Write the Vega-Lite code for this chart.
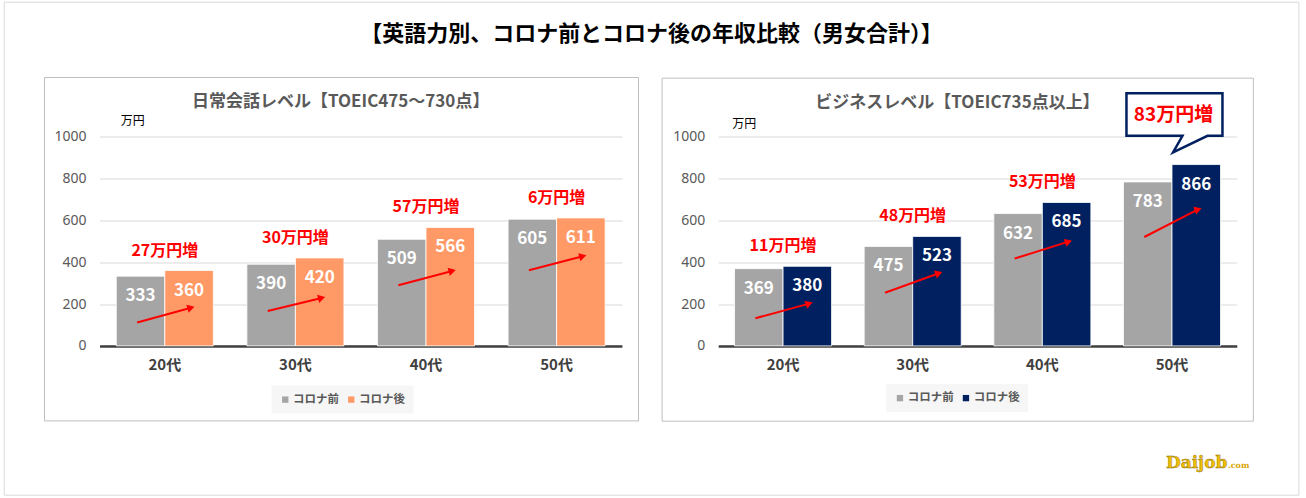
{
  "$schema": "https://vega.github.io/schema/vega-lite/v6.json",
  "background": "white",
  "padding": {"left": 3.5, "top": 1.5, "right": 0, "bottom": 0},
  "bounds": "flush",
  "spacing": 95.7,
  "resolve": {"scale": {"color": "independent"}, "legend": {"color": "independent"}},
  "title": {"text": "【英語力別、コロナ前とコロナ後の年収比較（男女合計）】", "anchor": "middle", "frame": "bounds", "offset": -44, "fontSize": 22, "fontWeight": "bold", "color": "#000000", "font": "Noto Sans CJK JP"},
  "datasets": {
    "daily": [
      {"age": "20代", "period": "コロナ前", "value": 333},
      {"age": "20代", "period": "コロナ後", "value": 360},
      {"age": "30代", "period": "コロナ前", "value": 390},
      {"age": "30代", "period": "コロナ後", "value": 420},
      {"age": "40代", "period": "コロナ前", "value": 509},
      {"age": "40代", "period": "コロナ後", "value": 566},
      {"age": "50代", "period": "コロナ前", "value": 605},
      {"age": "50代", "period": "コロナ後", "value": 611}
    ],
    "daily_ann": [
      {"age": "20代", "after": 360, "inc": "27万円増", "arrowFrom": 112, "arrowTo": 182},
      {"age": "30代", "after": 420, "inc": "30万円増", "arrowFrom": 167, "arrowTo": 229},
      {"age": "40代", "after": 566, "inc": "57万円増", "arrowFrom": 290, "arrowTo": 358},
      {"age": "50代", "after": 611, "inc": "6万円増", "arrowFrom": 361, "arrowTo": 428}
    ],
    "business": [
      {"age": "20代", "period": "コロナ前", "value": 369},
      {"age": "20代", "period": "コロナ後", "value": 380},
      {"age": "30代", "period": "コロナ前", "value": 475},
      {"age": "30代", "period": "コロナ後", "value": 523},
      {"age": "40代", "period": "コロナ前", "value": 632},
      {"age": "40代", "period": "コロナ後", "value": 685},
      {"age": "50代", "period": "コロナ前", "value": 783},
      {"age": "50代", "period": "コロナ後", "value": 866}
    ],
    "business_ann": [
      {"age": "20代", "after": 380, "inc": "11万円増", "arrowFrom": 132, "arrowTo": 202},
      {"age": "30代", "after": 523, "inc": "48万円増", "arrowFrom": 254, "arrowTo": 347},
      {"age": "40代", "after": 685, "inc": "53万円増", "arrowFrom": 417, "arrowTo": 498},
      {"age": "50代", "after": 866, "inc": "83万円増", "arrowFrom": 520, "arrowTo": 652}
    ]
  },
  "hconcat": [
    {
      "width": 522.4,
      "height": 209.4,
      "title": {"text": "日常会話レベル【TOEIC475～730点】", "frame": "group", "anchor": "middle", "dx": -20, "offset": -109.8, "fontSize": 17, "fontWeight": "bold", "color": "#595959", "font": "Noto Sans CJK JP"},
      "resolve": {"scale": {"x": "independent", "y": "independent"}},
      "layer": [
        {
          "data": {"values": [{}]},
          "mark": {"type": "rect", "fill": "transparent", "stroke": "#D9D9D9", "strokeWidth": 1},
          "encoding": {
            "x": {"datum": -0.1824, "type": "quantitative", "scale": {"domain": [0, 1], "nice": false, "zero": false}, "axis": null},
            "x2": {"datum": 2.296},
            "y": {"datum": 1641.4, "type": "quantitative", "scale": {"domain": [0, 1000], "nice": false, "zero": false}, "axis": null},
            "y2": {"datum": -713}
          }
        },
        {
          "data": {"values": [{}]},
          "mark": {"type": "rect", "fill": "transparent", "stroke": "#BFBFBF", "strokeWidth": 1},
          "encoding": {
            "x": {"datum": -0.1053, "type": "quantitative", "scale": {"domain": [0, 1], "nice": false, "zero": false}, "axis": null},
            "x2": {"datum": 1.0318},
            "y": {"datum": 1281.8, "type": "quantitative", "scale": {"domain": [0, 1000], "nice": false, "zero": false}, "axis": null},
            "y2": {"datum": -358.2}
          }
        },
        {
          "layer": [
            {
              "data": {"name": "daily"},
              "mark": {"type": "bar", "stroke": "white", "strokeWidth": 0.8},
              "encoding": {
                "x": {"field": "age", "type": "nominal", "sort": null, "scale": {"domain": ["20代", "30代", "40代", "50代"], "paddingInner": 0.257, "paddingOuter": 0.1285},
                  "axis": {"orient": "bottom", "title": null, "labelAngle": 0, "domainColor": "#404040", "domainWidth": 2.5, "ticks": false, "grid": false, "labelFont": "Noto Sans CJK JP", "labelFontWeight": "bold", "labelFontSize": 15, "labelColor": "#404040", "labelPadding": 12}},
                "xOffset": {"field": "period", "type": "nominal", "sort": null, "scale": {"domain": ["コロナ前", "コロナ後"], "paddingInner": 0, "paddingOuter": 0}},
                "y": {"field": "value", "type": "quantitative", "scale": {"domain": [0, 1000], "nice": false},
                  "axis": {"orient": "left", "values": [0, 200, 400, 600, 800, 1000], "format": "d", "grid": true, "gridColor": "#D9D9D9", "gridWidth": 1, "domain": false, "ticks": false, "labelFont": "Noto Sans", "labelFontSize": 14, "labelColor": "#595959", "labelPadding": 13.5, "title": "万円", "titleAngle": 0, "titleX": 32.7, "titleY": -15.6, "titleAlign": "center", "titleBaseline": "middle", "titleFont": "Noto Sans CJK JP", "titleFontSize": 12, "titleFontWeight": "normal", "titleColor": "#000000"}},
                "color": {"field": "period", "type": "nominal", "sort": null, "scale": {"domain": ["コロナ前", "コロナ後"], "range": ["#A5A5A5", "#FF9966"]},
                  "legend": {"title": null, "orient": "none", "legendX": 172, "legendY": 249, "direction": "horizontal", "symbolType": "square", "symbolSize": 40, "symbolStrokeWidth": 0, "labelFont": "Noto Sans CJK JP", "labelFontSize": 11.5, "labelFontWeight": "bold", "labelColor": "#595959", "labelOffset": 2, "columnPadding": 6, "fillColor": "#F6F6F6", "padding": 8}}
              }
            },
            {
              "data": {"name": "daily"},
              "mark": {"type": "text", "color": "white", "fontWeight": "bold", "fontSize": 17, "font": "Noto Sans CJK JP", "baseline": "middle", "dy": 20},
              "encoding": {
                "x": {"field": "age", "type": "nominal", "sort": null, "scale": {"domain": ["20代", "30代", "40代", "50代"], "paddingInner": 0.257, "paddingOuter": 0.1285}},
                "xOffset": {"field": "period", "type": "nominal", "sort": null, "scale": {"domain": ["コロナ前", "コロナ後"], "paddingInner": 0, "paddingOuter": 0}},
                "y": {"field": "value", "type": "quantitative", "scale": {"domain": [0, 1000], "nice": false}},
                "text": {"field": "value", "type": "quantitative", "format": "d"}
              }
            },
            {
              "data": {"name": "daily_ann"},
              "mark": {"type": "text", "color": "#FF0000", "fontWeight": "bold", "fontSize": 16, "font": "Noto Sans CJK JP", "baseline": "middle", "dy": -20},
              "encoding": {
                "x": {"field": "age", "type": "nominal", "sort": null, "scale": {"domain": ["20代", "30代", "40代", "50代"], "paddingInner": 0.257, "paddingOuter": 0.1285}},
                "y": {"field": "after", "type": "quantitative", "scale": {"domain": [0, 1000], "nice": false}},
                "text": {"field": "inc", "type": "nominal"}
              }
            },
            {
              "data": {"name": "daily_ann"},
              "mark": {"type": "rule", "color": "#FF0000", "strokeWidth": 2},
              "encoding": {
                "x": {"field": "age", "type": "nominal", "sort": null, "bandPosition": 0.215, "scale": {"domain": ["20代", "30代", "40代", "50代"], "paddingInner": 0.257, "paddingOuter": 0.1285}},
                "x2": {"field": "age", "bandPosition": 0.77},
                "y": {"field": "arrowFrom", "type": "quantitative", "scale": {"domain": [0, 1000], "nice": false}},
                "y2": {"field": "arrowTo"}
              }
            },
            {
              "data": {"name": "daily_ann"},
              "mark": {"type": "point", "shape": "triangle-right", "filled": true, "color": "#FF0000", "size": 70, "angle": -15, "opacity": 1},
              "encoding": {
                "x": {"field": "age", "type": "nominal", "sort": null, "bandPosition": 0.77, "scale": {"domain": ["20代", "30代", "40代", "50代"], "paddingInner": 0.257, "paddingOuter": 0.1285}},
                "y": {"field": "arrowTo", "type": "quantitative", "scale": {"domain": [0, 1000], "nice": false}}
              }
            }
          ]
        }
      ]
    },
    {
      "width": 518.6,
      "height": 209.4,
      "title": {"text": "ビジネスレベル【TOEIC735点以上】", "frame": "group", "anchor": "middle", "dx": -20, "offset": -33.8, "fontSize": 17, "fontWeight": "bold", "color": "#595959", "font": "Noto Sans CJK JP"},
      "resolve": {"scale": {"x": "independent", "y": "independent"}},
      "layer": [
        {
          "data": {"values": [{}]},
          "mark": {"type": "rect", "fill": "transparent", "stroke": "#BFBFBF", "strokeWidth": 1},
          "encoding": {
            "x": {"datum": -0.1082, "type": "quantitative", "scale": {"domain": [0, 1], "nice": false, "zero": false}, "axis": null},
            "x2": {"datum": 1.032},
            "y": {"datum": 1278.4, "type": "quantitative", "scale": {"domain": [0, 1000], "nice": false, "zero": false}, "axis": null},
            "y2": {"datum": -359.6}
          }
        },
        {
          "data": {"values": [{}]},
          "mark": {"type": "text", "text": "Daijob", "align": "right", "baseline": "alphabetic", "font": "DejaVu Serif", "fontWeight": "bold", "fontSize": 17, "fill": "#F0BE00", "stroke": "#8B6A10", "strokeWidth": 0.4},
          "encoding": {
            "x": {"datum": 0.982, "type": "quantitative", "scale": {"domain": [0, 1], "nice": false, "zero": false}, "axis": null},
            "y": {"datum": -584, "type": "quantitative", "scale": {"domain": [0, 1000], "nice": false, "zero": false}, "axis": null}
          }
        },
        {
          "data": {"values": [{}]},
          "mark": {"type": "text", "text": ".com", "align": "left", "baseline": "alphabetic", "font": "DejaVu Serif", "fontWeight": "bold", "fontSize": 8, "fill": "#D9A400"},
          "encoding": {
            "x": {"datum": 0.983, "type": "quantitative", "scale": {"domain": [0, 1], "nice": false, "zero": false}, "axis": null},
            "y": {"datum": -584, "type": "quantitative", "scale": {"domain": [0, 1000], "nice": false, "zero": false}, "axis": null}
          }
        },
        {
          "layer": [
            {
              "data": {"name": "business"},
              "mark": {"type": "bar", "stroke": "white", "strokeWidth": 0.8},
              "encoding": {
                "x": {"field": "age", "type": "nominal", "sort": null, "scale": {"domain": ["20代", "30代", "40代", "50代"], "paddingInner": 0.252, "paddingOuter": 0.126},
                  "axis": {"orient": "bottom", "title": null, "labelAngle": 0, "domainColor": "#404040", "domainWidth": 2.5, "ticks": false, "grid": false, "labelFont": "Noto Sans CJK JP", "labelFontWeight": "bold", "labelFontSize": 15, "labelColor": "#404040", "labelPadding": 12}},
                "xOffset": {"field": "period", "type": "nominal", "sort": null, "scale": {"domain": ["コロナ前", "コロナ後"], "paddingInner": 0, "paddingOuter": 0}},
                "y": {"field": "value", "type": "quantitative", "scale": {"domain": [0, 1000], "nice": false},
                  "axis": {"orient": "left", "values": [0, 200, 400, 600, 800, 1000], "format": "d", "grid": true, "gridColor": "#D9D9D9", "gridWidth": 1, "domain": false, "ticks": false, "labelFont": "Noto Sans", "labelFontSize": 14, "labelColor": "#595959", "labelPadding": 13.5, "title": "万円", "titleAngle": 0, "titleX": 25.6, "titleY": -12.6, "titleAlign": "center", "titleBaseline": "middle", "titleFont": "Noto Sans CJK JP", "titleFontSize": 12, "titleFontWeight": "normal", "titleColor": "#000000"}},
                "color": {"field": "period", "type": "nominal", "sort": null, "scale": {"domain": ["コロナ前", "コロナ後"], "range": ["#A5A5A5", "#002060"]},
                  "legend": {"title": null, "orient": "none", "legendX": 168, "legendY": 247.5, "direction": "horizontal", "symbolType": "square", "symbolSize": 40, "symbolStrokeWidth": 0, "labelFont": "Noto Sans CJK JP", "labelFontSize": 11.5, "labelFontWeight": "bold", "labelColor": "#595959", "labelOffset": 2, "columnPadding": 6, "fillColor": "#F6F6F6", "padding": 8}}
              }
            },
            {
              "data": {"name": "business"},
              "mark": {"type": "text", "color": "white", "fontWeight": "bold", "fontSize": 17, "font": "Noto Sans CJK JP", "baseline": "middle", "dy": 20},
              "encoding": {
                "x": {"field": "age", "type": "nominal", "sort": null, "scale": {"domain": ["20代", "30代", "40代", "50代"], "paddingInner": 0.252, "paddingOuter": 0.126}},
                "xOffset": {"field": "period", "type": "nominal", "sort": null, "scale": {"domain": ["コロナ前", "コロナ後"], "paddingInner": 0, "paddingOuter": 0}},
                "y": {"field": "value", "type": "quantitative", "scale": {"domain": [0, 1000], "nice": false}},
                "text": {"field": "value", "type": "quantitative", "format": "d"}
              }
            },
            {
              "data": {"name": "business_ann"},
              "transform": [{"filter": "datum.age !== '50代'"}],
              "mark": {"type": "text", "color": "#FF0000", "fontWeight": "bold", "fontSize": 16, "font": "Noto Sans CJK JP", "baseline": "middle", "dy": -20},
              "encoding": {
                "x": {"field": "age", "type": "nominal", "sort": null, "scale": {"domain": ["20代", "30代", "40代", "50代"], "paddingInner": 0.252, "paddingOuter": 0.126}},
                "y": {"field": "after", "type": "quantitative", "scale": {"domain": [0, 1000], "nice": false}},
                "text": {"field": "inc", "type": "nominal"}
              }
            },
            {
              "data": {"name": "business_ann"},
              "mark": {"type": "rule", "color": "#FF0000", "strokeWidth": 2},
              "encoding": {
                "x": {"field": "age", "type": "nominal", "sort": null, "bandPosition": 0.215, "scale": {"domain": ["20代", "30代", "40代", "50代"], "paddingInner": 0.252, "paddingOuter": 0.126}},
                "x2": {"field": "age", "bandPosition": 0.77},
                "y": {"field": "arrowFrom", "type": "quantitative", "scale": {"domain": [0, 1000], "nice": false}},
                "y2": {"field": "arrowTo"}
              }
            },
            {
              "data": {"name": "business_ann"},
              "mark": {"type": "point", "shape": "triangle-right", "filled": true, "color": "#FF0000", "size": 70, "angle": -20, "opacity": 1},
              "encoding": {
                "x": {"field": "age", "type": "nominal", "sort": null, "bandPosition": 0.77, "scale": {"domain": ["20代", "30代", "40代", "50代"], "paddingInner": 0.252, "paddingOuter": 0.126}},
                "y": {"field": "arrowTo", "type": "quantitative", "scale": {"domain": [0, 1000], "nice": false}}
              }
            },
            {
              "data": {"name": "business_ann"},
              "transform": [{"filter": "datum.age === '50代'"}],
              "mark": {"type": "point", "shape": "M-1,-0.4417L1,-0.4417L1,0.4417L0.6875,0.4417L-0.029,0.7875L0.1667,0.4417L-1,0.4417Z", "size": 9216, "filled": true, "fill": "white", "stroke": "#002060", "strokeWidth": 2.5, "opacity": 1, "xOffset": 2.5, "yOffset": -50},
              "encoding": {
                "x": {"field": "age", "type": "nominal", "sort": null, "scale": {"domain": ["20代", "30代", "40代", "50代"], "paddingInner": 0.252, "paddingOuter": 0.126}},
                "y": {"field": "after", "type": "quantitative", "scale": {"domain": [0, 1000], "nice": false}}
              }
            },
            {
              "data": {"name": "business_ann"},
              "transform": [{"filter": "datum.age === '50代'"}],
              "mark": {"type": "text", "color": "#FF0000", "fontWeight": "bold", "fontSize": 19, "font": "Noto Sans CJK JP", "baseline": "middle", "dx": 1.5, "dy": -50},
              "encoding": {
                "x": {"field": "age", "type": "nominal", "sort": null, "scale": {"domain": ["20代", "30代", "40代", "50代"], "paddingInner": 0.252, "paddingOuter": 0.126}},
                "y": {"field": "after", "type": "quantitative", "scale": {"domain": [0, 1000], "nice": false}},
                "text": {"field": "inc", "type": "nominal"}
              }
            }
          ]
        }
      ]
    }
  ],
  "config": {"view": {"stroke": null}, "font": "Noto Sans CJK JP"}
}
